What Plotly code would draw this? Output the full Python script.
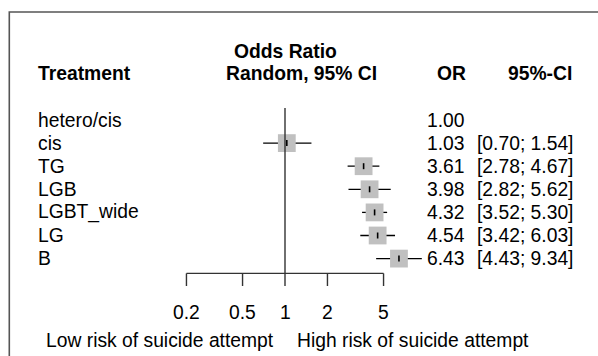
import math
import plotly.graph_objects as go

# ---------------- data ----------------
treatments = ["hetero/cis", "cis", "TG", "LGB", "LGBT_wide", "LG", "B"]
odds_ratio = [1.00, 1.03, 3.61, 3.98, 4.32, 4.54, 6.43]
ci_lower = [None, 0.70, 2.78, 2.82, 3.52, 3.42, 4.43]
ci_upper = [None, 1.54, 4.67, 5.62, 5.30, 6.03, 9.34]
tick_values = [0.2, 0.5, 1, 2, 5]
tick_labels = ["0.2", "0.5", "1", "2", "5"]
label_left = "Low risk of suicide attempt"
label_right = "High risk of suicide attempt"

# ---------------- layout geometry (pixels) ----------------
W, H = 598, 356
X_REF = 285.0          # pixel of OR = 1
PX_PER_DEC = 141.0     # pixels per decade
ROW0, ROW_STEP = 120.0, 23.1
Y_AXIS = 273.4
TICK_LEN = 12.6
FONT = "Liberation Sans, Arial, Helvetica, sans-serif"
FS = 19.3

row_y = [ROW0 + i * ROW_STEP for i in range(len(treatments))]

fig = go.Figure()

# CI lines
xs, ys = [], []
for lo, hi, y in zip(ci_lower, ci_upper, row_y):
    if lo is None:
        continue
    xs += [lo, hi, None]
    ys += [y, y, None]
fig.add_trace(go.Scatter(x=xs, y=ys, mode="lines",
                         line=dict(color="black", width=1.3),
                         hoverinfo="skip", showlegend=False))

# squares (weights)
sq_x = [o for o, lo in zip(odds_ratio, ci_lower) if lo is not None]
sq_y = [y for y, lo in zip(row_y, ci_lower) if lo is not None]
fig.add_trace(go.Scatter(x=sq_x, y=sq_y, mode="markers",
                         marker=dict(symbol="square", size=17.8,
                                     color="rgb(192,192,192)",
                                     line=dict(width=0)),
                         hoverinfo="skip", showlegend=False))
# centre ticks inside squares
cx, cy = [], []
for o, y in zip(sq_x, sq_y):
    cx += [o, o, None]
    cy += [y - 3, y + 3, None]
fig.add_trace(go.Scatter(x=cx, y=cy, mode="lines",
                         line=dict(color="black", width=1.6),
                         hoverinfo="skip", showlegend=False))

shapes = []
# reference line at OR = 1
shapes.append(dict(type="line", xref="x", yref="y", x0=1, x1=1,
                   y0=row_y[0] - 12, y1=Y_AXIS,
                   line=dict(color="#333333", width=1.4)))
# axis line
shapes.append(dict(type="line", xref="x", yref="y",
                   x0=min(tick_values), x1=max(tick_values),
                   y0=Y_AXIS, y1=Y_AXIS, line=dict(color="#333333", width=1.4)))
for tv in tick_values:
    shapes.append(dict(type="line", xref="x", yref="y", x0=tv, x1=tv,
                       y0=Y_AXIS, y1=Y_AXIS + TICK_LEN,
                       line=dict(color="#333333", width=1.4)))
# frame (top and left visible)
shapes.append(dict(type="rect", xref="paper", yref="y",
                   x0=9.3 / W, x1=1.02, y0=12, y1=H + 10,
                   line=dict(color="#555555", width=1.6)))

ann = []


def px(x):
    return x / W


def text(s, x, y, anchor="left", bold=False, xref="paper"):
    ann.append(dict(text=f"<b>{s}</b>" if bold else s, x=x, y=y,
                    xref=xref, yref="y", xanchor=anchor, yanchor="middle",
                    showarrow=False,
                    font=dict(family=FONT, size=FS, color="black")))


# headers
text("Odds Ratio", px(285), 51.7, "center", True)
text("Treatment", px(36), 73.3, "left", True)
text("Random, 95% CI", px(301.7), 73.3, "center", True)
text("OR", px(468.3), 73.3, "right", True)
text("95%-CI", px(574), 73.3, "right", True)

for name, o, lo, hi, y in zip(treatments, odds_ratio, ci_lower, ci_upper, row_y):
    text(name, px(36), y, "left")
    text(f"{o:.2f}", px(467.3), y, "right")
    if lo is not None:
        text(f"[{lo:.2f}; {hi:.2f}]", px(575), y, "right")

for tv, tl in zip(tick_values, tick_labels):
    text(tl, math.log10(tv), 312.7, "center", xref="x")

text(label_left, px(276), 340, "right")
text(label_right, px(295), 340, "left")

x_min = (0 - X_REF) / PX_PER_DEC
x_max = (W - X_REF) / PX_PER_DEC

fig.update_layout(
    width=W, height=H,
    margin=dict(l=0, r=0, t=0, b=0),
    paper_bgcolor="white", plot_bgcolor="white",
    xaxis=dict(type="log", range=[x_min, x_max], visible=False, domain=[0, 1]),
    yaxis=dict(range=[H, 0], visible=False, domain=[0, 1]),
    shapes=shapes, annotations=ann, showlegend=False,
)

fig.write_html("out.html",
               config={"displayModeBar": False},
               post_script="document.body.style.margin='0';"
                           "document.body.style.overflow='hidden';")
